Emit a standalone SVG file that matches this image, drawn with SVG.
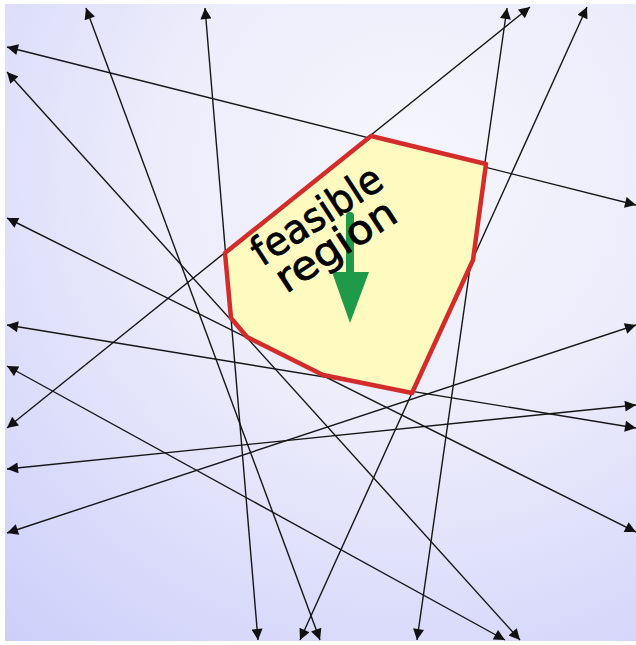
<svg xmlns="http://www.w3.org/2000/svg" width="636" height="645" viewBox="0 0 636 645">
<defs>
<radialGradient id="bg" gradientUnits="userSpaceOnUse" cx="410" cy="170" r="640">
<stop offset="0" stop-color="#f6f6fd"/>
<stop offset="0.4" stop-color="#ececfb"/>
<stop offset="1" stop-color="#cbcdfa"/>
</radialGradient>
<marker id="ah" viewBox="0 0 10 10" refX="10" refY="5" markerWidth="14" markerHeight="11" markerUnits="userSpaceOnUse" orient="auto-start-reverse">
<path d="M0,0 L10,5 L0,10 z" fill="#111"/>
</marker>
<style>
.ln{stroke:#161616;stroke-width:1.4;fill:none;marker-start:url(#ah);marker-end:url(#ah)}
.hw{font-family:"DejaVu Sans","Liberation Sans",sans-serif;font-size:40px;fill:#000;stroke:#000;stroke-width:0.8;stroke-linejoin:round}
</style>
</defs>
<rect x="0" y="0" width="636" height="645" fill="#ffffff"/>
<rect x="5" y="4" width="631" height="637" fill="url(#bg)"/>
<g id="connectors">
<line class="ln" x1="7" y1="47" x2="636" y2="205"/>
<line class="ln" x1="86" y1="8" x2="320" y2="640"/>
<line class="ln" x1="205" y1="8" x2="258" y2="640"/>
<line class="ln" x1="507" y1="8" x2="417" y2="640"/>
<line class="ln" x1="530" y1="7" x2="7" y2="428"/>
<line class="ln" x1="587" y1="7" x2="300" y2="640"/>
<line class="ln" x1="7" y1="72" x2="520" y2="640"/>
<line class="ln" x1="7" y1="218" x2="636" y2="532"/>
<line class="ln" x1="7" y1="325" x2="636" y2="428"/>
<line class="ln" x1="7" y1="366" x2="505" y2="640"/>
<line class="ln" x1="7" y1="469" x2="636" y2="405"/>
<line class="ln" x1="7" y1="533" x2="636" y2="325"/>
</g>
<g id="feasible-region">
<polygon points="371,136 486,164 473,260 412,393 323,375 247,337 231,318 225,253" fill="#fefac0" stroke="#d42b2b" stroke-width="4.5" stroke-linejoin="round"/>
</g>
<g id="objective-arrow">
<path d="M350,216 L350,276" stroke="#1e9a48" stroke-width="8" stroke-linecap="round" fill="none"/>
<path d="M332,272 L369,272 L350,323 z" fill="#1e9a48"/>
</g>
<g id="label">
<text class="hw" transform="translate(262,267) rotate(-33)" textLength="148" lengthAdjust="spacingAndGlyphs">feasible</text>
<text class="hw" transform="translate(286,294) rotate(-33)" textLength="136" lengthAdjust="spacingAndGlyphs">region</text>
</g>
</svg>
